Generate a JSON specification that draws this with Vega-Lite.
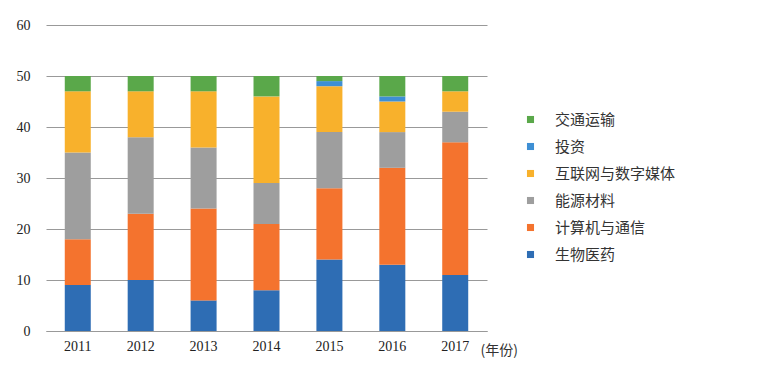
{
  "$schema": "https://vega.github.io/schema/vega-lite/v6.json",
  "autosize": "none",
  "width": 441,
  "height": 306,
  "padding": {"left": 46, "top": 25, "right": 273, "bottom": 39},
  "background": "white",
  "config": {"view": {"stroke": null}},
  "data": {"values": [
    {"year": "2011", "category": "生物医药", "rank": 1, "count": 9},
    {"year": "2011", "category": "计算机与通信", "rank": 2, "count": 9},
    {"year": "2011", "category": "能源材料", "rank": 3, "count": 17},
    {"year": "2011", "category": "互联网与数字媒体", "rank": 4, "count": 12},
    {"year": "2011", "category": "投资", "rank": 5, "count": 0},
    {"year": "2011", "category": "交通运输", "rank": 6, "count": 3},
    {"year": "2012", "category": "生物医药", "rank": 1, "count": 10},
    {"year": "2012", "category": "计算机与通信", "rank": 2, "count": 13},
    {"year": "2012", "category": "能源材料", "rank": 3, "count": 15},
    {"year": "2012", "category": "互联网与数字媒体", "rank": 4, "count": 9},
    {"year": "2012", "category": "投资", "rank": 5, "count": 0},
    {"year": "2012", "category": "交通运输", "rank": 6, "count": 3},
    {"year": "2013", "category": "生物医药", "rank": 1, "count": 6},
    {"year": "2013", "category": "计算机与通信", "rank": 2, "count": 18},
    {"year": "2013", "category": "能源材料", "rank": 3, "count": 12},
    {"year": "2013", "category": "互联网与数字媒体", "rank": 4, "count": 11},
    {"year": "2013", "category": "投资", "rank": 5, "count": 0},
    {"year": "2013", "category": "交通运输", "rank": 6, "count": 3},
    {"year": "2014", "category": "生物医药", "rank": 1, "count": 8},
    {"year": "2014", "category": "计算机与通信", "rank": 2, "count": 13},
    {"year": "2014", "category": "能源材料", "rank": 3, "count": 8},
    {"year": "2014", "category": "互联网与数字媒体", "rank": 4, "count": 17},
    {"year": "2014", "category": "投资", "rank": 5, "count": 0},
    {"year": "2014", "category": "交通运输", "rank": 6, "count": 4},
    {"year": "2015", "category": "生物医药", "rank": 1, "count": 14},
    {"year": "2015", "category": "计算机与通信", "rank": 2, "count": 14},
    {"year": "2015", "category": "能源材料", "rank": 3, "count": 11},
    {"year": "2015", "category": "互联网与数字媒体", "rank": 4, "count": 9},
    {"year": "2015", "category": "投资", "rank": 5, "count": 1},
    {"year": "2015", "category": "交通运输", "rank": 6, "count": 1},
    {"year": "2016", "category": "生物医药", "rank": 1, "count": 13},
    {"year": "2016", "category": "计算机与通信", "rank": 2, "count": 19},
    {"year": "2016", "category": "能源材料", "rank": 3, "count": 7},
    {"year": "2016", "category": "互联网与数字媒体", "rank": 4, "count": 6},
    {"year": "2016", "category": "投资", "rank": 5, "count": 1},
    {"year": "2016", "category": "交通运输", "rank": 6, "count": 4},
    {"year": "2017", "category": "生物医药", "rank": 1, "count": 11},
    {"year": "2017", "category": "计算机与通信", "rank": 2, "count": 26},
    {"year": "2017", "category": "能源材料", "rank": 3, "count": 6},
    {"year": "2017", "category": "互联网与数字媒体", "rank": 4, "count": 4},
    {"year": "2017", "category": "投资", "rank": 5, "count": 0},
    {"year": "2017", "category": "交通运输", "rank": 6, "count": 3}
  ]},
  "mark": {"type": "bar", "width": 26},
  "encoding": {
    "x": {
      "field": "year", "type": "ordinal",
      "scale": {"paddingInner": 0.59, "paddingOuter": 0.3},
      "axis": {
        "labelAngle": 0, "labelFont": "Liberation Serif", "labelFontSize": 14, "labelColor": "#222",
        "labelPadding": 8, "ticks": false, "domainColor": "#999", "domainWidth": 1,
        "title": "(年份)", "titleFont": "Noto Sans CJK SC", "titleFontSize": 14, "titleFontWeight": "normal",
        "titleColor": "#333", "titleAnchor": "start", "titleAlign": "left", "titleX": 434, "titleY": 23,
        "titleBaseline": "alphabetic"
      }
    },
    "y": {
      "field": "count", "type": "quantitative", "stack": "zero",
      "scale": {"domain": [0, 60], "nice": false},
      "axis": {
        "values": [0, 10, 20, 30, 40, 50, 60], "title": null, "domain": false, "ticks": false,
        "labelFont": "Liberation Serif", "labelFontSize": 14, "labelColor": "#222", "labelPadding": 16,
        "gridColor": "#999", "gridWidth": 1
      }
    },
    "order": {"field": "rank", "type": "quantitative", "sort": "ascending"},
    "color": {
      "field": "category", "type": "nominal",
      "scale": {
        "domain": ["生物医药", "计算机与通信", "能源材料", "互联网与数字媒体", "投资", "交通运输"],
        "range": ["#2E6DB4", "#F4732E", "#9E9E9E", "#F8B12C", "#3E8FD4", "#5AA84A"]
      },
      "legend": {
        "values": ["交通运输", "投资", "互联网与数字媒体", "能源材料", "计算机与通信", "生物医药"],
        "title": null, "orient": "none", "legendX": 477, "legendY": 87,
        "symbolType": "square", "symbolSize": 50, "symbolStrokeWidth": 0,
        "labelFont": "Noto Sans CJK SC", "labelFontSize": 15, "labelColor": "#333",
        "labelOffset": 17, "rowPadding": 11
      }
    }
  }
}
